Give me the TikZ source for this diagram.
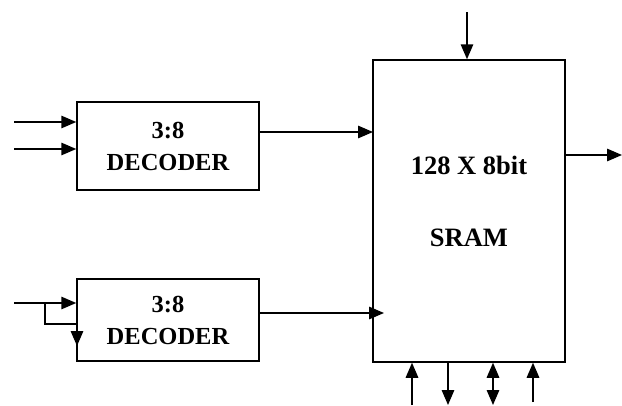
\documentclass[tikz,border=0pt]{standalone}
\usepackage{fontspec}
\setmainfont{Liberation Serif}
\usetikzlibrary{arrows.meta}

\tikzset{
    block/.style={draw, line width=1.5pt, inner sep=0pt, align=center,
        font=\bfseries\fontsize{24.5}{32}\selectfont},
    blocktext/.style={font=\bfseries\fontsize{26.5}{30}\selectfont},
    wire/.style={line width=1.5pt, -{Triangle[length=15pt,width=12.5pt]}},
    biwire/.style={line width=1.5pt, {Triangle[length=15pt,width=12.5pt]}-{Triangle[length=15pt,width=12.5pt]}}
}

\begin{document}
\begin{tikzpicture}[x=1pt,y=-1pt]
            \useasboundingbox (0,0) rectangle (622,405);

            % decoders and memory
            \node[block, minimum width=182pt, minimum height=88pt] (dec1) at (168,146) {3:8\\DECODER};
            \node[block, minimum width=182pt, minimum height=82pt] (dec2) at (168,320) {3:8\\DECODER};
            \node[block, minimum width=192pt, minimum height=302pt] (sram) at (469,211) {};
            \node[blocktext] (size) at (469,165) {128 X 8bit};
            \node[blocktext] (name) at (469,238) {SRAM};

            % inputs of first decoder
            \coordinate (in1) at (14,122);
            \coordinate (in2) at (14,149);
            \draw[wire] (in1) -- (in1 -| dec1.west);
            \draw[wire] (in2) -- (in2 -| dec1.west);

            % input of second decoder
            \coordinate (in3) at (14,303);
            \coordinate (tap) at (45,303);
            \coordinate (fb) at (77,324);
            \coordinate (fbend) at (77,346);
            \draw[wire] (in3) -- (in3 -| dec2.west);
            \draw[line width=1.5pt] (tap) |- (fb);
            \draw[wire] (fb) -- (fbend);

            % decoders to memory
            \coordinate (row) at (373,132);
            \coordinate (col) at (384,313);
            \draw[wire] (row -| dec1.east) -- (row);
            \draw[wire] (col -| dec2.east) -- (col);

            % top and right
            \coordinate (top) at (467,12);
            \coordinate (out) at (622,155);
            \draw[wire] (top) -- (top |- sram.north);
            \draw[wire] (out -| sram.east) -- (out);

            % bottom control lines
            \coordinate (b1) at (412,405);
            \coordinate (b2) at (448,405);
            \coordinate (b3) at (493,405);
            \coordinate (b4) at (533,402);
            \draw[wire] (b1) -- (b1 |- sram.south);
            \draw[wire] (b2 |- sram.south) -- (b2);
            \draw[biwire] (b3 |- sram.south) -- (b3);
            \draw[wire] (b4) -- (b4 |- sram.south);
\end{tikzpicture}
\end{document}
